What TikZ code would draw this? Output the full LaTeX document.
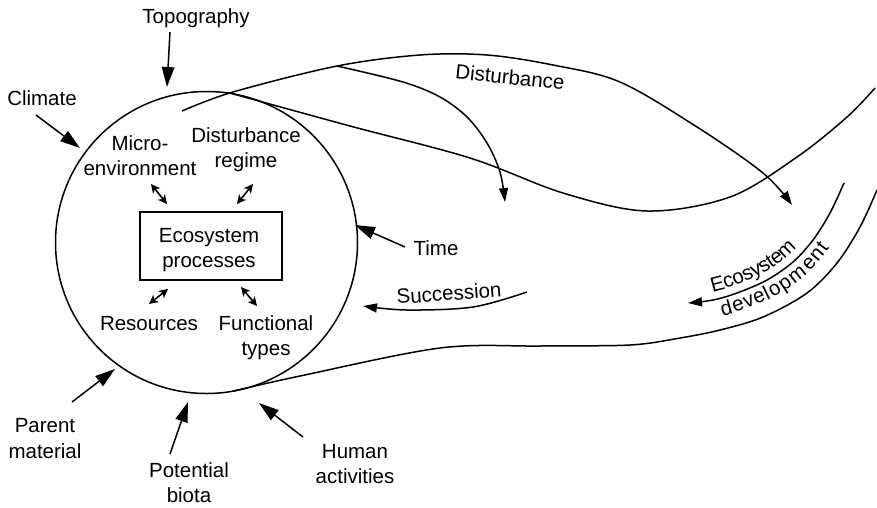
\documentclass[tikz,border=0pt]{standalone}
\usepackage{fontspec}
\setmainfont{Liberation Sans}
\usetikzlibrary{arrows.meta,decorations.text}
\newcommand\lblfont{\fontsize{20.5pt}{25pt}\selectfont}
\begin{document}
\begin{tikzpicture}[x=1pt,y=-1pt,
  every node/.style={font=\lblfont, inner sep=0pt},
  lbl/.style={anchor=base},
  curve/.style={line width=1.5pt},
  factor/.style={line width=1.5pt, -{Triangle[length=20pt,width=12.5pt]}},
  flow/.style={line width=1.5pt, -{Triangle[length=14pt,width=9pt]}},
  link/.style={line width=1.6pt, {Stealth[length=9pt,width=9pt,inset=2.5pt]}-{Stealth[length=9pt,width=9pt,inset=2.5pt]}},
]
\useasboundingbox (0,0) rectangle (877,507);

% ecosystem circle and process box
\node[circle, draw, line width=1.5pt, minimum size=302pt, outer sep=0pt] (sys) at (206.5,242.5) {};
\node[draw, line width=1.5pt, minimum width=142pt, minimum height=68pt] (proc) at (211,246) {};

% labels
\node[lbl] (topo) at (196,23) {Topography};
\node[lbl] (clim) at (42,105) {Climate};
\node[lbl] (micro1) at (140,150) {Micro-};
\node[lbl] (micro2) at (140,175) {environment};
\node[lbl] (dreg1) at (246,142) {Disturbance};
\node[lbl] (dreg2) at (246,167) {regime};
\node[lbl] (eco1) at (209,242) {Ecosystem};
\node[lbl] (eco2) at (209,267) {processes};
\node[lbl] (res) at (149,330) {Resources};
\node[lbl] (fun1) at (266,330) {Functional};
\node[lbl] (fun2) at (266,355) {types};
\node[lbl] (time) at (436,255) {Time};
\node[lbl] (par1) at (45,432) {Parent};
\node[lbl] (par2) at (45,458) {material};
\node[lbl] (pot1) at (189,477) {Potential};
\node[lbl] (pot2) at (189,502) {biota};
\node[lbl] (hum1) at (355,458) {Human};
\node[lbl] (hum2) at (355,483) {activities};
\node[rotate=4] (succ) at (449,293) {Succession};
\node[rotate=-6] (dist) at (510,77) {Disturbance};

% state factor arrows
\coordinate (topoT) at (170,32);  \coordinate (topoH) at (167,87);
\coordinate (climT) at (36,115);  \coordinate (climH) at (80,148);
\coordinate (timeT) at (405,247); \coordinate (timeH) at (355,225);
\coordinate (parT) at (72,402);   \coordinate (parH) at (115,369);
\coordinate (potT) at (170,454);  \coordinate (potH) at (188,402);
\coordinate (humT) at (303,437);  \coordinate (humH) at (259,403);
\draw[factor] (topoT) -- (topoH);
\draw[factor] (climT) -- (climH);
\draw[factor] (timeT) -- (timeH);
\draw[factor] (parT) -- (parH);
\draw[factor] (potT) -- (potH);
\draw[factor] (humT) -- (humH);

% interactions with ecosystem processes
\coordinate (l1a) at (151,184); \coordinate (l1b) at (167,204);
\coordinate (l2a) at (237,204); \coordinate (l2b) at (253,184);
\coordinate (l3a) at (149,304); \coordinate (l3b) at (168,289);
\coordinate (l4a) at (241,287); \coordinate (l4b) at (257,306);
\draw[link] (l1a) -- (l1b);
\draw[link] (l2a) -- (l2b);
\draw[link] (l3a) -- (l3b);
\draw[link] (l4a) -- (l4b);

% trajectory curves
\coordinate (aEnd) at (877,190);
\draw[curve] plot[smooth, tension=0.55] coordinates
  {(sys.-80) (300,376) (440,348) (540,346) (630,345) (680,338) (720,330) (763,317) (807,293) (837,263) (860,227) (aEnd)};
\coordinate (cEnd) at (875,88);
\draw[curve] plot[smooth, tension=0.55] coordinates
  {(sys.80) (350,126) (470,158) (563,193) (647,211) (730,197) (797,157) (847,117) (cEnd)};

% disturbance arrows
\coordinate (dStart) at (182,111);
\coordinate (dBranch) at (337,66);
\coordinate (d1End) at (792,205);
\coordinate (d2End) at (505,202);
\draw[flow] plot[smooth, tension=0.55] coordinates
  {(dStart) (233,92) (dBranch) (420,55) (487,55) (553,65) (620,82) (697,127) (763,173) (d1End)};
\draw[flow] plot[smooth, tension=0.55] coordinates
  {(dBranch) (403,82) (440,97) (467,117) (487,143) (500,172) (d2End)};

% ecosystem development arrow and its label
\coordinate (bStart) at (844,183);
\coordinate (bEnd) at (688,303);
\draw[flow] plot[smooth, tension=0.55] coordinates
  {(bStart) (830,213) (813,240) (793,262) (767,280) (737,293) (713,300) (bEnd)};
\path[decorate, decoration={text along path, raise=8pt,
    text align={left indent=27pt}, text={|\lblfont|Ecosystem}}]
  plot[smooth, tension=0.55] coordinates
  {(bEnd) (713,300) (737,293) (767,280) (793,262) (813,240) (830,213) (bStart)};
\path[decorate, decoration={text along path, raise=-18pt,
    text align={left indent=30pt}, text={|\lblfont|development}}]
  plot[smooth, tension=0.55] coordinates
  {(bEnd) (713,300) (737,293) (767,280) (793,262) (813,240) (830,213) (bStart)};

% succession arrow
\coordinate (sStart) at (527,292);
\coordinate (sEnd) at (363,306);
\draw[flow] plot[smooth, tension=0.55] coordinates
  {(sStart) (473,307) (407,310) (sEnd)};
\end{tikzpicture}
\end{document}
